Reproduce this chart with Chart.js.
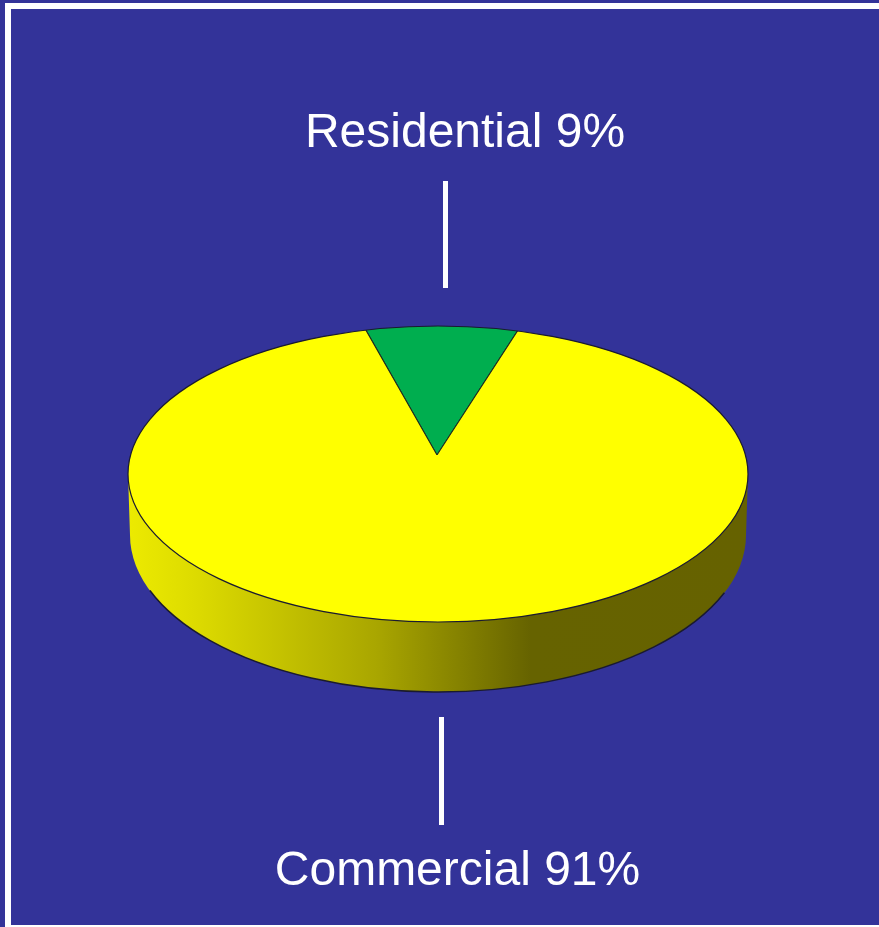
<!DOCTYPE html>
<html>
<head>
<meta charset="utf-8">
<title>Residential and Commercial</title>
<script src="https://cdn.jsdelivr.net/npm/chart.js@4"></script>
<style>
  html, body { margin: 0; padding: 0; background: #333399; }
  canvas { display: block; }
</style>
</head>
<body>
<canvas id="pieChart" width="879" height="927"></canvas>
<script>
const categories = ["Residential", "Commercial"];
const shares = [9, 91];
const sliceColors = ["#00AE4F", "#FFFF00"];

// Top face of the disc and the narrower ellipse at the bottom of its wall
const top3d = { x: 438, y: 474, rx: 310, ry: 148 };
const bottom3d = { x: 438, y: 535, rx: 308, ry: 157 };
const apex = { x: 437, y: 455 };
const tilt = 0.477;

function ellipsePath(ctx, e) {
  ctx.beginPath();
  ctx.ellipse(e.x, e.y, e.rx, e.ry, 0, 0, Math.PI * 2);
}

const pie3d = {
  id: "pie3d",
  beforeDraw(chart) {
    const ctx = chart.ctx;
    ctx.save();
    ctx.fillStyle = "#333399";
    ctx.fillRect(0, 0, chart.width, chart.height);
    // White frame, runs off the right edge
    ctx.strokeStyle = "#FFFFFF";
    ctx.lineWidth = 6;
    ctx.strokeRect(8, 6, 900, 922);
    ctx.restore();
  },
  beforeDatasetsDraw(chart) {
    const ctx = chart.ctx;
    const arc = chart.getDatasetMeta(0).data[0];

    // Side wall
    const wall = ctx.createLinearGradient(130, 0, 746, 0);
    wall.addColorStop(0, "#ECEA00");
    wall.addColorStop(0.1, "#DEDC00");
    wall.addColorStop(0.4, "#A9A600");
    wall.addColorStop(0.65, "#666300");
    wall.addColorStop(1, "#666200");
    ctx.save();
    ctx.beginPath();
    ctx.moveTo(top3d.x - top3d.rx, top3d.y);
    ctx.lineTo(bottom3d.x - bottom3d.rx, bottom3d.y);
    ctx.ellipse(bottom3d.x, bottom3d.y, bottom3d.rx, bottom3d.ry, 0, Math.PI, 0, true);
    ctx.lineTo(top3d.x + top3d.rx, top3d.y);
    ctx.closePath();
    ctx.fillStyle = wall;
    ctx.fill();
    ctx.beginPath();
    ctx.ellipse(bottom3d.x, bottom3d.y, bottom3d.rx, bottom3d.ry, 0, Math.PI * 0.885, Math.PI * 0.12, true);
    ctx.strokeStyle = "#1A1A30";
    ctx.lineWidth = 1.5;
    ctx.stroke();
    ctx.restore();

    // Squash the slices onto the top face, restored in afterDatasetsDraw
    ctx.save();
    ellipsePath(ctx, top3d);
    ctx.clip();
    ctx.translate(apex.x, apex.y);
    ctx.scale(1, tilt);
    ctx.translate(-arc.x, -arc.y);
  },
  afterDatasetsDraw(chart) {
    const ctx = chart.ctx;
    ctx.restore();
    ctx.save();
    ellipsePath(ctx, top3d);
    ctx.strokeStyle = "#1A1A30";
    ctx.lineWidth = 1.2;
    ctx.stroke();
    ctx.restore();
  },
  afterDraw(chart) {
    const ctx = chart.ctx;
    ctx.save();
    // Leader lines
    ctx.strokeStyle = "#FFFFFF";
    ctx.lineWidth = 5;
    ctx.beginPath();
    ctx.moveTo(445.5, 181);
    ctx.lineTo(445.5, 288);
    ctx.moveTo(441.5, 717);
    ctx.lineTo(441.5, 825);
    ctx.stroke();
    // Labels
    ctx.fillStyle = "#FFFFFF";
    ctx.font = '48px "Liberation Sans", Arial, sans-serif';
    ctx.textAlign = "center";
    ctx.textBaseline = "alphabetic";
    ctx.fillText(categories[0] + " " + shares[0] + "%", 465, 147);
    ctx.fillText(categories[1] + " " + shares[1] + "%", 457.5, 885);
    ctx.restore();
  },
};

const ctx = document.getElementById("pieChart").getContext("2d");
new Chart(ctx, {
  type: "pie",
  data: {
    labels: categories,
    datasets: [
      {
        data: shares,
        backgroundColor: sliceColors,
        borderColor: "#1C2A22",
        borderWidth: 1.2,
        radius: 380,
        rotation: -15.2,
      },
    ],
  },
  options: {
    responsive: false,
    animation: false,
    plugins: {
      legend: { display: false },
      tooltip: { enabled: false },
    },
  },
  plugins: [pie3d],
});
</script>
</body>
</html>
